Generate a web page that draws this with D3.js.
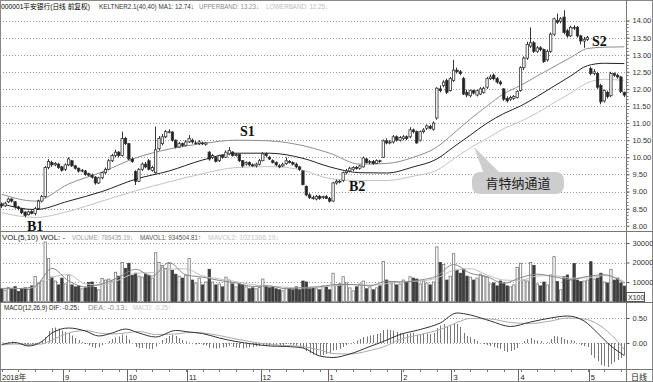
<!DOCTYPE html>
<html>
<head>
<meta charset="utf-8">
<script src="https://cdn.jsdelivr.net/npm/d3@7"></script>
<style>
  body { margin: 0; background: #fff; }
  svg { display: block; font-family: "Liberation Sans", "Noto Sans CJK SC", sans-serif; }
</style>
</head>
<body>
<svg id="chart" width="653" height="382"></svg>
<script>
// date axis: label and first bar index of each month
const monthLabels = ["2018年", "9", "10", "11", "12", "1", "2", "3", "4", "5"];
const monthStart = [0, 19, 38, 56, 78, 98, 120, 135, 155, 176];

// daily candles (前复权)
const opens = [
  8.62,8.58,8.70,8.78,8.70,8.55,8.50,8.40,8.32,8.42,
  8.36,8.50,8.72,8.85,9.70,9.85,9.78,9.80,9.72,9.65,
  9.78,9.90,9.75,9.68,9.60,9.60,9.52,9.48,9.42,9.25,
  9.40,9.55,9.65,9.90,10.05,10.15,10.05,10.55,10.40,9.95,
  9.58,9.30,9.65,9.80,9.90,9.62,9.55,10.25,10.40,10.60,
  10.75,10.74,10.50,10.30,10.40,10.35,10.45,10.50,10.42,10.40,
  10.42,10.38,10.15,10.00,10.00,9.90,10.05,10.00,10.10,10.15,
  10.05,10.08,9.90,9.80,9.85,9.78,9.75,9.80,9.90,10.10,
  10.00,9.90,9.85,9.75,9.75,9.82,9.88,9.85,9.80,9.72,
  9.60,9.15,8.90,8.82,8.78,8.86,8.82,8.85,8.80,8.72,
  9.25,9.30,9.32,9.55,9.60,9.65,9.70,9.68,9.72,9.95,
  9.85,9.88,9.82,9.90,10.00,10.48,10.42,10.45,10.60,10.50,
  10.55,10.60,10.60,10.80,10.75,10.50,10.75,10.85,10.90,10.82,
  11.15,12.00,12.10,12.25,11.95,12.25,12.55,12.50,12.30,11.90,
  11.80,11.95,11.82,11.85,11.90,12.05,12.30,12.40,12.30,12.20,
  12.00,11.72,11.70,11.72,11.75,11.95,12.62,12.90,13.25,13.35,
  13.10,13.20,13.15,12.85,13.10,13.60,14.00,13.98,14.10,13.70,
  13.55,13.80,13.80,13.55,13.40,13.45,12.60,12.45,12.45,12.10,
  11.65,11.90,11.80,12.45,12.40,12.35,11.90
];
const closes = [
  8.58,8.66,8.78,8.72,8.55,8.50,8.38,8.30,8.40,8.36,
  8.50,8.72,8.85,9.70,9.88,9.78,9.82,9.70,9.62,9.78,
  9.95,9.75,9.68,9.60,9.62,9.50,9.48,9.42,9.25,9.40,
  9.55,9.65,9.90,10.05,10.15,10.05,10.55,10.40,9.95,9.88,
  9.30,9.65,9.80,9.72,9.65,9.70,10.22,10.55,10.60,10.75,
  10.75,10.50,10.30,10.40,10.35,10.45,10.55,10.45,10.42,10.45,
  10.40,10.42,9.95,10.05,9.88,10.05,10.00,10.15,10.20,10.05,
  10.08,9.90,9.75,9.85,9.78,9.75,9.80,9.90,10.10,10.05,
  9.95,9.85,9.78,9.72,9.80,9.90,9.85,9.80,9.72,9.65,
  9.20,8.90,8.82,8.80,8.86,8.80,8.85,8.80,8.72,9.25,
  9.30,9.28,9.55,9.60,9.68,9.70,9.68,9.75,9.98,9.85,
  9.88,9.82,9.90,9.88,10.48,10.42,10.45,10.60,10.50,10.58,
  10.60,10.55,10.80,10.75,10.42,10.75,10.80,10.92,10.85,11.00,
  12.02,11.95,12.20,11.90,12.30,12.55,12.50,12.45,11.85,11.82,
  11.95,11.88,11.95,12.00,12.02,12.30,12.35,12.30,12.20,12.15,
  11.70,11.65,11.75,11.78,11.92,12.62,12.90,13.30,13.35,13.10,
  13.20,13.15,12.80,13.10,13.60,14.05,13.95,14.05,13.65,13.55,
  13.80,13.78,13.55,13.40,13.45,13.50,12.45,12.50,12.05,11.62,
  11.95,11.78,12.45,12.40,12.35,11.92,11.82
];
const highs = [
  8.68,8.70,8.82,8.80,8.72,8.58,8.52,8.42,8.44,8.45,
  8.55,8.76,8.90,9.75,9.95,9.90,9.86,9.84,9.75,9.82,
  10.00,9.92,9.78,9.70,9.66,9.63,9.55,9.52,9.45,9.43,
  9.58,9.70,9.95,10.10,10.22,10.18,10.75,10.60,10.42,10.00,
  9.62,9.68,9.85,9.86,9.95,9.75,10.90,10.62,10.68,10.80,
  10.82,10.76,10.52,10.45,10.43,10.50,10.65,10.55,10.48,10.50,
  10.46,10.45,10.18,10.10,10.04,10.08,10.08,10.20,10.30,10.18,
  10.12,10.10,9.92,9.88,9.88,9.82,9.84,9.95,10.15,10.14,
  10.04,9.94,9.88,9.80,9.84,10.00,9.92,9.88,9.84,9.75,
  9.62,9.18,8.95,8.88,8.90,8.90,8.88,8.90,8.84,9.28,
  9.35,9.34,9.58,9.66,9.72,9.74,9.75,9.78,10.02,9.98,
  9.92,9.92,9.94,9.93,10.52,10.55,10.50,10.65,10.64,10.62,
  10.65,10.64,10.88,10.84,10.78,10.78,10.85,10.96,10.95,11.05,
  12.05,12.10,12.25,12.30,12.35,12.85,12.62,12.55,12.35,11.98,
  11.98,11.98,11.98,12.05,12.06,12.35,12.42,12.45,12.35,12.25,
  12.02,11.78,11.80,11.82,11.96,12.66,12.95,13.38,13.80,13.40,
  13.25,13.25,13.18,13.15,13.65,14.08,14.20,14.10,14.30,13.75,
  13.85,13.86,13.84,13.58,13.52,13.55,12.65,12.58,12.50,12.15,
  11.98,11.95,12.50,12.48,12.45,12.38,11.92
];
const lows = [
  8.52,8.55,8.66,8.68,8.50,8.45,8.34,8.25,8.30,8.33,
  8.30,8.48,8.68,8.82,9.65,9.72,9.74,9.66,9.58,9.60,
  9.74,9.72,9.64,9.55,9.56,9.46,9.44,9.38,9.20,9.22,
  9.36,9.50,9.62,9.86,10.00,10.00,10.02,10.36,9.92,9.84,
  9.19,9.28,9.60,9.68,9.62,9.58,9.52,10.20,10.35,10.56,
  10.70,10.46,10.26,10.28,10.30,10.32,10.42,10.40,10.38,10.36,
  10.36,10.34,9.90,9.95,9.85,9.86,9.96,9.98,10.06,10.02,
  10.02,9.86,9.70,9.76,9.74,9.72,9.70,9.76,9.88,10.00,
  9.92,9.82,9.74,9.68,9.72,9.78,9.82,9.76,9.68,9.60,
  9.18,8.86,8.78,8.76,8.74,8.76,8.78,8.78,8.68,8.70,
  9.20,9.24,9.28,9.50,9.56,9.60,9.64,9.64,9.70,9.82,
  9.80,9.78,9.80,9.84,9.98,10.38,10.38,10.40,10.46,10.46,
  10.50,10.50,10.56,10.70,10.40,10.46,10.70,10.80,10.82,10.78,
  11.10,11.90,12.05,11.85,11.92,12.20,12.45,12.40,11.82,11.76,
  11.75,11.84,11.78,11.82,11.86,12.00,12.26,12.25,12.15,12.10,
  11.65,11.60,11.65,11.68,11.72,11.92,12.55,12.85,13.20,13.05,
  13.05,13.10,12.76,12.80,13.05,13.55,13.90,13.92,13.60,13.50,
  13.52,13.72,13.50,13.30,13.20,13.40,12.40,12.40,12.00,11.55,
  11.60,11.72,11.76,12.35,12.30,11.88,11.76
];

// Keltner channel lines at these bar indices
const kIdx = [0,10,20,30,40,50,60,70,80,90,98,107,115,123,130,135,140,145,150,155,160,165,170,175,180,186];
const kMid = [8.64,8.47,8.72,9.00,9.36,9.60,9.92,10.12,10.12,9.97,9.72,9.55,9.54,9.72,9.95,10.30,10.65,11.00,11.28,11.50,11.78,12.08,12.38,12.68,12.75,12.74];
const kUpper = [8.92,8.72,9.22,9.57,9.98,10.24,10.40,10.50,10.48,10.34,10.12,9.80,9.82,10.00,10.30,10.70,11.12,11.50,11.86,12.10,12.38,12.65,12.92,13.18,13.22,13.23];
const kLower = [8.38,8.24,8.42,8.72,9.02,9.28,9.52,9.70,9.73,9.62,9.38,9.32,9.32,9.45,9.62,9.95,10.28,10.55,10.84,11.05,11.30,11.60,11.88,12.18,12.28,12.25];

// volume (x100)
const volumes = [
  6500,5800,7200,6800,7600,5200,6400,7000,6200,8000,
  12800,9500,10500,30500,22000,12500,10500,8500,12000,9000,
  13600,8500,7500,8000,6500,7000,9800,10000,7200,6000,
  11800,11000,11500,10500,15000,13000,20000,17000,19600,13500,
  14500,13000,12500,14000,13500,12000,25000,20000,18500,17000,
  19500,16000,14000,13000,12000,13500,22000,11000,9500,12000,
  8500,10000,16500,10000,8500,9000,7500,12500,11000,9000,
  7500,9000,8500,7500,6500,7000,6500,7200,11500,8000,
  7000,7500,6500,6000,5500,7000,6500,6000,7500,6000,
  10500,10000,6500,7000,6500,6000,8000,7500,6000,14500,
  8500,9000,12700,9500,7000,5500,7500,9000,10500,6500,
  7500,6000,7000,8000,20500,11000,9500,10000,8500,9000,
  11000,10000,12700,12000,11500,9000,10500,9500,8500,10000,
  28000,20000,19000,11000,13000,24500,16000,14500,16500,13000,
  12500,11000,12000,14000,13000,12500,9000,9500,8000,10500,
  9500,8000,7500,8500,17500,19600,11000,10500,20000,18500,
  9000,8000,10000,8500,13600,23000,10200,6000,12700,13600,
  11000,19500,11000,10200,10500,11000,20400,11500,12000,14500,
  10000,9500,16500,11000,12000,9500,7900
];
// volume averages read at these bar indices
const vIdx = [0,5,10,15,20,25,30,35,40,45,50,55,60,65,70,75,80,85,90,95,100,105,110,115,120,125,130,135,140,145,150,155,160,165,170,175,180,186];
const mavol1 = [6600,6600,7800,17000,10600,7500,9000,12500,16500,13000,20000,13700,12500,10800,9500,7700,8000,6500,7200,7600,8700,8700,8000,10400,10000,11000,13100,19000,14500,12700,9300,12200,14000,12700,11300,12900,13700,9300];
const mavol2 = [6800,6700,7200,12300,13800,9000,8500,11000,14500,14800,16500,16800,13100,11600,10200,8600,7800,7300,6900,7400,8200,8700,8400,9200,10200,10500,12000,16000,16800,13600,11000,10800,13100,13300,12000,12100,13300,10200];

// MACD(12,26,9)
const mIdx = [0,4,8,12,15,20,25,29,33,37,41,46,52,56,60,65,70,75,80,85,90,95,99,104,110,114,119,125,131,136,140,146,152,158,164,169,174,178,182,186];
const dif = [-0.03,0.01,-0.06,0.03,0.20,0.30,0.24,0.14,0.20,0.28,0.20,0.12,0.25,0.22,0.19,0.10,0.03,-0.02,-0.06,-0.07,-0.10,-0.26,-0.29,-0.22,-0.07,0.03,0.17,0.27,0.40,0.60,0.56,0.44,0.33,0.42,0.50,0.54,0.44,0.20,-0.06,-0.25];
const dea = [-0.04,-0.02,-0.03,-0.02,0.06,0.20,0.25,0.20,0.18,0.20,0.23,0.17,0.18,0.21,0.20,0.15,0.08,0.02,-0.03,-0.05,-0.07,-0.14,-0.21,-0.22,-0.15,-0.08,0.07,0.17,0.27,0.41,0.49,0.48,0.41,0.39,0.44,0.50,0.48,0.38,0.17,-0.13];
const macdHist = [
  0.01,0.00,0.02,0.03,0.02,0.00,-0.02,-0.04,-0.05,-0.04,
  -0.02,0.00,0.04,0.12,0.24,0.30,0.31,0.29,0.25,0.22,
  0.20,0.15,0.10,0.06,0.02,-0.02,-0.05,-0.08,-0.10,-0.08,
  -0.04,0.00,0.04,0.08,0.11,0.13,0.17,0.15,0.07,0.00,
  -0.08,-0.10,-0.10,-0.11,-0.12,-0.12,-0.07,0.00,0.06,0.10,
  0.14,0.16,0.14,0.10,0.06,0.03,0.01,-0.01,-0.03,-0.02,
  -0.04,-0.05,-0.09,-0.10,-0.11,-0.10,-0.09,-0.08,-0.06,-0.08,
  -0.09,-0.10,-0.11,-0.10,-0.09,-0.08,-0.07,-0.06,-0.04,-0.05,
  -0.06,-0.05,-0.04,-0.05,-0.04,-0.02,-0.03,-0.04,-0.05,-0.06,
  -0.10,-0.16,-0.20,-0.23,-0.24,-0.25,-0.24,-0.22,-0.20,-0.15,
  -0.14,-0.12,-0.08,-0.04,-0.01,0.02,0.05,0.08,0.12,0.13,
  0.15,0.16,0.18,0.20,0.26,0.27,0.26,0.25,0.22,0.20,
  0.20,0.18,0.20,0.20,0.16,0.18,0.18,0.19,0.18,0.20,
  0.30,0.35,0.38,0.34,0.36,0.40,0.38,0.32,0.20,0.14,
  0.12,0.08,0.04,0.00,-0.02,-0.04,-0.06,-0.08,-0.10,-0.12,
  -0.16,-0.18,-0.16,-0.14,-0.10,0.00,0.04,0.08,0.10,0.06,
  0.05,0.04,0.00,0.02,0.08,0.14,0.13,0.12,0.08,0.06,
  0.06,0.04,0.00,-0.04,-0.06,-0.08,-0.24,-0.30,-0.36,-0.44,
  -0.46,-0.48,-0.42,-0.38,-0.34,-0.30,-0.24
];

const svg = d3.select("#chart");
const W = 653, H = 382, plotRight = 626;
const N = closes.length;

const x = d3.scaleBand().domain(d3.range(N)).range([0, plotRight]).paddingInner(0.3).paddingOuter(0.15);
const cx = i => x(i) + x.bandwidth() / 2;
const yPrice = d3.scaleLinear().domain([8, 14]).range([225.7, 20.5]);
const yVol = d3.scaleLinear().domain([0, 30000]).range([301.5, 243]);
const yMacd = d3.scaleLinear().domain([-0.5, 0.5]).range([368, 318]);
const px = v => Math.round(v) + 0.5;

// dotted grid
function grid(scale, values) {
    svg.append("g").selectAll("line").data(values).join("line")
        .attr("x1", 0).attr("x2", plotRight)
        .attr("y1", d => px(scale(d))).attr("y2", d => px(scale(d)))
        .attr("stroke", "#9c9c9c").attr("stroke-dasharray", "1,2");
}
grid(yPrice, d3.range(8, 14.01, 0.5));
grid(yVol, [10000, 20000, 30000]);
grid(yMacd, [0, 0.5]);

// frame and panel separators
svg.append("rect").attr("x", 0.5).attr("y", 0.5).attr("width", W - 1).attr("height", H - 1)
    .attr("fill", "none").attr("stroke", "#888");
[231.5, 302.5, 369.5].forEach(y => {
    svg.append("line").attr("x1", 0).attr("x2", W).attr("y1", y).attr("y2", y).attr("stroke", "#777");
});
svg.append("line").attr("x1", plotRight + 0.5).attr("x2", plotRight + 0.5).attr("y1", 0).attr("y2", H).attr("stroke", "#777");

// Keltner channel
let kLine = d3.line().x(d => cx(d[0])).y(d => yPrice(d[1])).curve(d3.curveMonotoneX);
svg.append("path").datum(d3.zip(kIdx, kLower)).attr("d", kLine).attr("fill", "none").attr("stroke", "#c4c4c4");
svg.append("path").datum(d3.zip(kIdx, kUpper)).attr("d", kLine).attr("fill", "none").attr("stroke", "#8e8e8e");
svg.append("path").datum(d3.zip(kIdx, kMid)).attr("d", kLine).attr("fill", "none").attr("stroke", "#222");

// candles
let candles = svg.append("g").selectAll("g").data(d3.range(N)).join("g");
candles.append("line")
    .attr("x1", i => px(cx(i) - 0.5)).attr("x2", i => px(cx(i) - 0.5))
    .attr("y1", i => yPrice(highs[i])).attr("y2", i => yPrice(lows[i]))
    .attr("stroke", "#333");
candles.append("rect")
    .attr("x", i => x(i))
    .attr("width", x.bandwidth())
    .attr("y", i => yPrice(Math.max(opens[i], closes[i])))
    .attr("height", i => Math.max(0.8, Math.abs(yPrice(opens[i]) - yPrice(closes[i]))))
    .attr("fill", i => closes[i] >= opens[i] ? "#fff" : "#222")
    .attr("stroke", "#333").attr("stroke-width", 0.8);

// volume bars
svg.append("g").selectAll("rect").data(d3.range(N)).join("rect")
    .attr("x", i => x(i))
    .attr("width", x.bandwidth())
    .attr("y", i => yVol(volumes[i]))
    .attr("height", i => yVol(0) - yVol(volumes[i]))
    .attr("fill", i => closes[i] >= opens[i] ? "#fff" : "#3c3c3c")
    .attr("stroke", i => closes[i] >= opens[i] ? "#777" : "#3c3c3c").attr("stroke-width", 0.8);

let vLine = d3.line().x(d => cx(d[0])).y(d => yVol(d[1])).curve(d3.curveMonotoneX);
svg.append("path").datum(d3.zip(vIdx, mavol2)).attr("d", vLine).attr("fill", "none").attr("stroke", "#c0c0c0");
svg.append("path").datum(d3.zip(vIdx, mavol1)).attr("d", vLine).attr("fill", "none").attr("stroke", "#888");

// MACD
svg.append("g").selectAll("line").data(d3.range(N)).join("line")
    .attr("x1", i => px(cx(i))).attr("x2", i => px(cx(i)))
    .attr("y1", yMacd(0)).attr("y2", i => yMacd(macdHist[i]))
    .attr("stroke", "#777");
let mLine = d3.line().x(d => cx(d[0])).y(d => yMacd(d[1])).curve(d3.curveMonotoneX);
svg.append("path").datum(d3.zip(mIdx, dea)).attr("d", mLine).attr("fill", "none").attr("stroke", "#aaa");
svg.append("path").datum(d3.zip(mIdx, dif)).attr("d", mLine).attr("fill", "none").attr("stroke", "#333");

// right axes
function rightAxis(scale, values, fmt) {
    let g = svg.append("g").attr("transform", `translate(${plotRight + 0.5},0)`)
        .call(d3.axisRight(scale).tickValues(values).tickFormat(fmt).tickSize(3).tickPadding(3));
    g.select(".domain").remove();
    g.selectAll("line").attr("stroke", "#555");
    g.selectAll("text").attr("font-size", "7.5px").attr("fill", "#333").attr("font-family", "Liberation Sans");
}
rightAxis(yPrice, d3.range(8, 14.01, 0.5), d3.format(".2f"));
rightAxis(yVol, [10000, 20000, 30000], d3.format("d"));
rightAxis(yMacd, [0, 0.5], d3.format(".2f"));
// minor ticks on the price scale
svg.append("g").selectAll("line").data(d3.range(8, 14.01, 0.1)).join("line")
    .attr("x1", plotRight + 0.5).attr("x2", plotRight + 2.5)
    .attr("y1", d => px(yPrice(d))).attr("y2", d => px(yPrice(d)))
    .attr("stroke", "#777");

// x100 unit box
svg.append("rect").attr("x", plotRight + 0.5).attr("y", 292.5).attr("width", 18).attr("height", 9)
    .attr("fill", "#fff").attr("stroke", "#555");
svg.append("text").attr("x", plotRight + 2).attr("y", 300).attr("font-size", "7px").attr("fill", "#222").text("X100");

// date axis
let axisG = svg.append("g");
axisG.selectAll("line.tick").data(d3.range(0, N, 5)).join("line")
    .attr("x1", i => px(cx(i))).attr("x2", i => px(cx(i)))
    .attr("y1", 370).attr("y2", 372).attr("stroke", "#777");
axisG.selectAll("line.sep").data(monthStart.slice(1)).join("line")
    .attr("x1", i => px(x(i) - 1)).attr("x2", i => px(x(i) - 1))
    .attr("y1", 370).attr("y2", 381).attr("stroke", "#666");
axisG.selectAll("text").data(monthLabels).join("text")
    .attr("x", (d, k) => k == 0 ? 2 : x(monthStart[k]) + 1)
    .attr("y", 379.5)
    .attr("font-size", "7.5px").attr("fill", "#222")
    .text(d => d);
svg.append("text").attr("x", 631).attr("y", 379.5).attr("font-size", "8px").attr("fill", "#222").text("日线");

// panel headers
function header(y, parts) {
    let t = svg.append("text").attr("y", y).attr("font-size", "7px");
    parts.forEach(p => {
        t.append("tspan").attr("x", p[0]).attr("fill", p[2])
            .attr("textLength", p[3]).attr("lengthAdjust", "spacingAndGlyphs").text(p[1]);
    });
}
header(8.5, [
    [1, "000001平安银行(日线 前复权)", "#000", 89],
    [99, "KELTNER2.1(40,40) MA1: 12.74↓", "#333", 95],
    [199, "UPPERBAND: 13.23↓", "#8a8a8a", 60],
    [266, "LOWERBAND: 12.25↓", "#bdbdbd", 62]
]);
header(239.5, [
    [2, "VOL(5,10) WOL: -", "#222", 63],
    [72, "VOLUME: 786435.19↓", "#9a9a9a", 61],
    [140, "MAVOL1: 934504.81↑", "#555", 61],
    [208, "MAVOL2: 1021366.19↓", "#c4c4c4", 71]
]);
header(310, [
    [4, "MACD(12,26,9) DIF: -0.25↓", "#222", 76],
    [88, "DEA: -0.13↓", "#8a8a8a", 40],
    [133, "MACD: -0.25↑", "#c4c4c4", 38]
]);

// buy / sell marks
let marks = [["B1", 27, 231], ["S1", 240, 136], ["B2", 349, 191], ["S2", 592, 46]];
svg.append("g").selectAll("text").data(marks).join("text")
    .attr("x", d => d[1]).attr("y", d => d[2])
    .attr("font-family", "Liberation Serif, DejaVu Serif, serif")
    .attr("font-weight", "bold").attr("font-size", "14px").attr("fill", "#111")
    .text(d => d[0]);

// callout for the channel
let callout = svg.append("g");
callout.append("path").attr("d", "M484,174 L474,147 L501,174 Z").attr("fill", "#cdcdcd");
callout.append("rect").attr("x", 472).attr("y", 172).attr("width", 92).attr("height", 22).attr("rx", 8)
    .attr("fill", "#cdcdcd");
callout.append("text").attr("x", 518).attr("y", 188).attr("text-anchor", "middle")
    .attr("font-family", "Noto Sans CJK SC").attr("font-size", "13px").attr("fill", "#222")
    .text("肯特纳通道");
</script>
</body>
</html>
